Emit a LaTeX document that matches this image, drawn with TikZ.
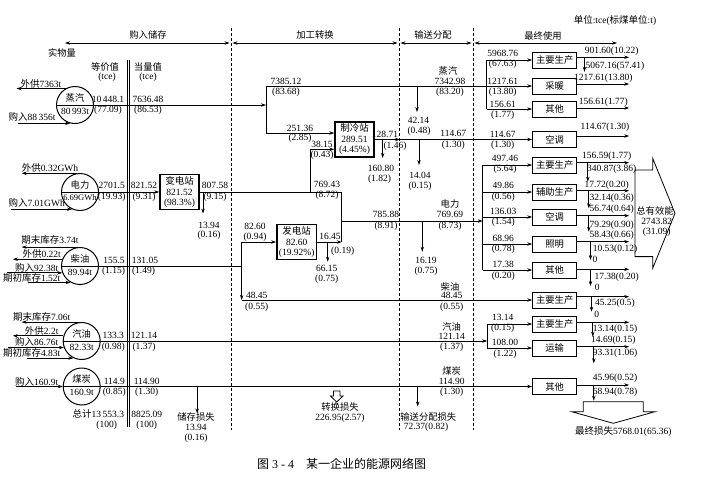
\documentclass[tikz,border=0pt]{standalone}
\usepackage{fontspec}
\setmainfont{Liberation Serif}
\newfontfamily\cjk{Noto Sans CJK SC}
\usetikzlibrary{arrows.meta,positioning}

\begin{document}
\begin{tikzpicture}[x=1pt, y=-1pt, line width=0.7pt,
        font=\fontsize{9.5}{10}\selectfont,
        useblock/.style={draw, line width=1pt, minimum width=44pt, minimum height=16pt, inner sep=0pt, font=\cjk\fontsize{9.3}{10}\selectfont},
        plant/.style={draw, line width=1.4pt, align=center, minimum width=39pt, inner sep=2pt, font=\fontsize{9.5}{10.5}\selectfont},
        src/.style={draw, circle, line width=1pt, minimum size=37pt, inner sep=0pt},
        val/.style={inner sep=0.5pt},
        zh/.style={inner sep=0.5pt, font=\cjk\fontsize{9.3}{10}\selectfont},
        divider/.style={dash pattern=on 3pt off 2pt, line width=0.6pt},
        >={Stealth[length=5pt,width=3.4pt]}
    ]
        \useasboundingbox (0,0) rectangle (707,482);

        % Stage headers
        \node[zh] (h-buy) at (148,35) {购入储存};
        \node[zh] (h-conv) at (315,35) {加工转换};
        \node[zh] (h-dist) at (433,35) {输送分配};
        \node[zh] (h-use) at (543,36) {最终使用};
        \node[val] (h-unit) at (615,20) {{\cjk 单位}:tce({\cjk 标煤单位}:t)};
        \node[zh] (h-phys) at (62,53) {实物量};
        \node[zh] (h-eq) at (105,67) {等价值};
        \node[val] (h-eqt) at (107,77.5) {(tce)};
        \node[zh] (h-cv) at (148,67) {当量值};
        \node[val] (h-cvt) at (148,77.5) {(tce)};

        \coordinate (s0) at (65,43);
        \coordinate (s1) at (231,43);
        \coordinate (s2) at (399,43);
        \coordinate (s3) at (473,43);
        \coordinate (s4) at (617,43);
        \draw[<->] (s0) -- ([xshift=-1.5pt]s1);
        \draw[<->] ([xshift=1.5pt]s1) -- ([xshift=-1.5pt]s2);
        \draw[<->] ([xshift=1.5pt]s2) -- ([xshift=-1.5pt]s3);
        \draw[<->] ([xshift=1.5pt]s3) -- (s4);

        % Stage borders
        \draw[divider] (231,28) -- (231,430);
        \draw[divider] (399,28) -- (399,430);
        \draw[divider] (473,28) -- (473,430);
        \draw (127,60) -- (127,427);
        \draw (129.5,60) -- (129.5,427);

        % Sources
        \node[src] (zq) at (75,105) {};
        \node[zh] (zq-n) at (75,98) {蒸汽};
        \node[val] (zq-q) at (75,111.5) {80\,993t};
        \node[src] (dl) at (80,192) {};
        \node[zh] (dl-n) at (80,184.5) {电力};
        \node[val, font=\fontsize{8.5}{9}\selectfont] (dl-q) at (80,198) {6.69GWh};
        \node[src] (cy) at (80,266) {};
        \node[zh] (cy-n) at (80,258.5) {柴油};
        \node[val] (cy-q) at (80,272.5) {89.94t};
        \node[src] (qy) at (81.7,341) {};
        \node[zh] (qy-n) at (81.7,333.5) {汽油};
        \node[val] (qy-q) at (81.7,347) {82.33t};
        \node[src] (mt) at (81.7,386.5) {};
        \node[zh] (mt-n) at (81.7,379) {煤炭};
        \node[val] (mt-q) at (81.7,392.5) {160.9t};

        % Source in and out
        \node[val] (zq-out) at (41,83.5) {{\cjk 外供}7363t};
        \node[val] (zq-in) at (32,117) {{\cjk 购入}88\,356t};
        \node[val] (dl-out) at (50,167.5) {{\cjk 外供}0.32GWh};
        \node[val] (dl-in) at (36.7,203.3) {{\cjk 购入}7.01GWh};
        \node[val] (cy-st) at (50,240) {{\cjk 期末库存}3.74t};
        \node[val] (cy-out) at (41.7,254.3) {{\cjk 外供}0.22t};
        \node[val] (cy-in) at (36.7,267.5) {{\cjk 购入}92.38t};
        \node[val] (cy-st0) at (31.7,278) {{\cjk 期初库存}1.52t};
        \node[val] (qy-st) at (41.7,317) {{\cjk 期末库存}7.06t};
        \node[val] (qy-out) at (41.7,330.5) {{\cjk 外供}2.2t};
        \node[val] (qy-in) at (36.7,342) {{\cjk 购入}86.76t};
        \node[val] (qy-st0) at (31.7,352.5) {{\cjk 期初库存}4.83t};
        \node[val] (mt-in) at (36.7,381.5) {{\cjk 购入}160.9t};

        \draw[->] (zq.120) -- ++(-49,0);
        \draw[<-] (zq.255) -- ++(-52,0);
        \draw[->] (dl.100) -- ++(-55,0);
        \draw[<-] (dl.245) -- ++(-60.5,0);
        \draw[->] (cy.95) -- ++(-56.7,0);
        \draw[->] (cy.159) -- ++(-49.4,0);
        \draw[<-] (cy.201) -- ++(-55,0);
        \draw[<-] (cy.240) -- ++(-43,0);
        \draw[->] (qy.95) -- ++(-58.4,0);
        \draw[->] (qy.164) -- ++(-50.6,0);
        \draw[<-] (qy.200) -- ++(-56,0);
        \draw[<-] (qy.244) -- ++(-46,0);
        \draw[<-] (mt.west) -- ++(-46.5,0);

        % Purchase and storage values
        \node[val] (zq-a1) at (108,99) {10\,448.1};
        \node[val] (zq-b1) at (108,110.5) {(77.09)};
        \node[val] (zq-a2) at (148,99) {7636.48};
        \node[val] (zq-b2) at (148,110.5) {(86.53)};
        \node[val] (dl-a1) at (111.7,185) {2701.5};
        \node[val] (dl-b1) at (111.7,197) {(19.93)};
        \node[val] (dl-a2) at (144,185) {821.52};
        \node[val] (dl-b2) at (144,197) {(9.31)};
        \node[val] (cy-a1) at (114,260) {155.5};
        \node[val] (cy-b1) at (113.5,271.5) {(1.15)};
        \node[val] (cy-a2) at (145,260) {131.05};
        \node[val] (cy-b2) at (143.5,271.5) {(1.49)};
        \node[val] (qy-a1) at (113.3,335.5) {133.3};
        \node[val] (qy-b1) at (113.3,347) {(0.98)};
        \node[val] (qy-a2) at (144,335.5) {121.14};
        \node[val] (qy-b2) at (144,347) {(1.37)};
        \node[val] (mt-a1) at (114.3,381) {114.9};
        \node[val] (mt-b1) at (114.3,392.5) {(0.85)};
        \node[val] (mt-a2) at (146.7,381) {114.90};
        \node[val] (mt-b2) at (146.7,392.5) {(1.30)};
        \node[val] (sum-a1) at (98.3,414.3) {{\cjk 总计}13\,553.3};
        \node[val] (sum-b1) at (106.7,425) {(100)};
        \node[val] (sum-a2) at (146.7,414.3) {8825.09};
        \node[val] (sum-b2) at (146.7,425) {(100)};

        % Plants
        \node[plant] (bd) at (179.5,192) {{\cjk 变电站}\\821.52\\(98.3\%)};
        \node[plant] (zl) at (354.5,139.5) {{\cjk 制冷站}\\289.51\\(4.45\%)};
        \node[plant] (fd) at (296.7,242) {{\cjk 发电站}\\82.60\\(19.92\%)};

        % Final use
        \node[useblock] (u1) at (554.7,60) {主要生产};
        \node[useblock] (u2) at (554.7,86) {采暖};
        \node[useblock] (u3) at (554.7,109) {其他};
        \node[useblock] (u4) at (554.7,139.5) {空调};
        \node[useblock] (u5) at (554.7,165) {主要生产};
        \node[useblock] (u6) at (554.7,192) {辅助生产};
        \node[useblock] (u7) at (554.7,217) {空调};
        \node[useblock] (u8) at (554.7,244) {照明};
        \node[useblock] (u9) at (554.7,270) {其他};
        \node[useblock] (u10) at (554.7,300) {主要生产};
        \node[useblock] (u11) at (554.7,324) {主要生产};
        \node[useblock] (u12) at (554.7,348) {运输};
        \node[useblock] (u13) at (554.7,386.5) {其他};

        % Steam
        \coordinate (zq-j) at (266,105);
        \coordinate (zq-up) at (266,86);
        \coordinate (zq-dn) at (266,133);
        \coordinate (zq-f1) at (486.7,60);
        \coordinate (zq-f3) at (486.7,109);
        \draw[->] (zq.west) -- (zq-j);
        \draw (zq-up) -- (zq-dn);
        \draw[->] (zq-up) -- (u2.west);
        \draw[->] (zq-dn) -- (zl.west |- zq-dn);
        \draw[->] ([xshift=151pt]zq-up) -- ++(0,26);
        \draw (zq-f1) -- (zq-f3);
        \draw[->] (zq-f1) -- (u1.west);
        \draw[->] (zq-f3) -- (u3.west);
        \coordinate (zl-o) at (400,139.5);
        \draw[->] (zl.east) -- (zl-o);
        \draw[->] (zl-o) -- (u4.west);
        \draw[->] ([xshift=8pt]zl.east) -- ++(0,18.5);
        \draw[->] ([xshift=19pt]zl-o) -- ++(0,25.5);

        \node[val] (zq-a3) at (286,81) {7385.12};
        \node[val] (zq-b3) at (286,92) {(83.68)};
        \node[val] (zq-a4) at (300,128) {251.36};
        \node[val] (zq-b4) at (300,138.5) {(2.85)};
        \node[val] (zl-a1) at (385,134) {128.71};
        \node[val] (zl-b1) at (395,146.5) {(1.46)};
        \node[val] (zl-a2) at (381,168) {160.80};
        \node[val] (zl-b2) at (379.5,179) {(1.82)};
        \node[zh] (zq-n2) at (448,71) {蒸汽};
        \node[val] (zq-a5) at (450,81) {7342.98};
        \node[val] (zq-b5) at (450,92) {(83.20)};
        \node[val] (zq-a6) at (418.5,120) {42.14};
        \node[val] (zq-b6) at (419,131) {(0.48)};
        \node[val] (zl-a3) at (453.3,133.5) {114.67};
        \node[val] (zl-b3) at (453.3,145) {(1.30)};
        \node[val] (zl-a4) at (420,175) {14.04};
        \node[val] (zl-b4) at (420,186.5) {(0.15)};

        % Power
        \coordinate (dl-a) at (310.7,192);
        \coordinate (dl-e) at (310.7,149.3);
        \coordinate (dl-b) at (341.7,192);
        \coordinate (dl-c) at (341.7,221);
        \coordinate (dl-d) at (341.7,242);
        \coordinate (dl-g) at (482.7,165);
        \coordinate (dl-h) at (482.7,270);
        \draw[->] (dl.west) -- (bd.west);
        \draw (bd.east) -- (dl-b) -- (dl-d);
        \draw[->] ([xshift=3.3pt]bd.east) -- ++(0,21.5);
        \draw[->] (dl-a) -- (dl-e) -- (zl.west |- dl-e);
        \draw[->] (fd.east) -- (dl-d);
        \draw[->] ([xshift=10.5pt]fd.east) -- ++(0,19.7);
        \draw[->] (dl-c) -- (dl-g |- dl-c);
        \draw[->] ([xshift=80.6pt]dl-c) -- ++(0,30.7);
        \draw (dl-g) -- (dl-h);
        \draw[->] (dl-g) -- (u5.west);
        \draw[->] (dl-g |- u6) -- (u6.west);
        \draw[->] (dl-g |- u7) -- (u7.west);
        \draw[->] (dl-g |- u8) -- (u8.west);
        \draw[->] (dl-h) -- (u9.west);

        \node[val] (dl-a3) at (215,185) {807.58};
        \node[val] (dl-b3) at (215,197) {(9.15)};
        \node[val] (dl-a4) at (209,225) {13.94};
        \node[val] (dl-b4) at (209,235.5) {(0.16)};
        \node[val] (dl-a5) at (322,144) {38.15};
        \node[val] (dl-b5) at (322,155) {(0.43)};
        \node[val] (dl-a6) at (327,184) {769.43};
        \node[val] (dl-b6) at (327,195.5) {(8.72)};
        \node[val] (fd-a1) at (330,236) {16.45};
        \node[val] (fd-b1) at (342.7,251) {(0.19)};
        \node[val] (fd-a2) at (326.7,268.3) {66.15};
        \node[val] (fd-b2) at (326.7,279) {(0.75)};
        \node[val] (dl-a7) at (386,214.5) {785.88};
        \node[val] (dl-b7) at (386,226) {(8.91)};
        \node[zh] (dl-n2) at (450,204) {电力};
        \node[val] (dl-a8) at (450,214.5) {769.69};
        \node[val] (dl-b8) at (450,226.5) {(8.73)};
        \node[val] (dl-a9) at (426,260) {16.19};
        \node[val] (dl-b9) at (426,271) {(0.75)};

        % Diesel
        \coordinate (cy-j) at (241.7,266);
        \coordinate (cy-u) at (241.7,242);
        \coordinate (cy-d) at (241.7,300);
        \draw (cy.west) -- (cy-j);
        \draw[->] (cy-j) -- (cy-u) -- (fd.west);
        \draw[->] (cy-j) -- (cy-d);
        \draw[->] (cy-d) -- (u10.west);

        \node[val] (cy-a3) at (255,226.7) {82.60};
        \node[val] (cy-b3) at (255,237) {(0.94)};
        \node[val] (cy-a4) at (256.7,295.5) {48.45};
        \node[val] (cy-b4) at (256.7,307) {(0.55)};
        \node[zh] (cy-n2) at (450,286.5) {柴油};
        \node[val] (cy-a5) at (451.7,295.5) {48.45};
        \node[val] (cy-b5) at (451.7,307) {(0.55)};

        % Gasoline
        \coordinate (qy-j) at (487.3,341);
        \coordinate (qy-a) at (487.3,324);
        \coordinate (qy-b) at (487.3,348);
        \draw[->] (qy.west) -- (qy-j);
        \draw (qy-a) -- (qy-b);
        \draw[->] (qy-a) -- (u11.west);
        \draw[->] (qy-b) -- (u12.west);

        \node[zh] (qy-n2) at (451.7,327) {汽油};
        \node[val] (qy-a3) at (451.7,336) {121.14};
        \node[val] (qy-b3) at (451.7,347.5) {(1.37)};

        % Coal
        \draw[->] (mt.west) -- (u13.west);
        \draw[->] ([xshift=96.5pt]mt.east) -- ++(0,27);
        \draw[->] ([xshift=317pt]mt.east) -- ++(0,20);

        \node[zh] (mt-n2) at (451.7,371) {煤炭};
        \node[val] (mt-a3) at (451.7,381) {114.90};
        \node[val] (mt-b3) at (451.7,392.5) {(1.30)};

        % Losses
        \node[zh] (ls-st) at (196,417.3) {储存损失};
        \node[val] (ls-st1) at (196,427.7) {13.94};
        \node[val] (ls-st2) at (196,438) {(0.16)};
        \draw[line width=0.8pt] (333.5,391) -- (339.9,391) -- (339.9,396) -- (343,396) -- (336.7,402) -- (330.4,396) -- (333.5,396) -- cycle;
        \node[zh] (ls-cv) at (340,407.3) {转换损失};
        \node[val] (ls-cv1) at (340,418.3) {226.95(2.57)};
        \node[zh] (ls-ds) at (428.3,416.7) {输送分配损失};
        \node[val] (ls-ds1) at (426,427.3) {72.37(0.82)};

        % Final use inputs
        \node[val] (u1-a) at (502.7,53.3) {5968.76};
        \node[val] (u1-b) at (502.7,64.5) {(67.63)};
        \node[val] (u2-a) at (502.7,81) {1217.61};
        \node[val] (u2-b) at (502.7,92) {(13.80)};
        \node[val] (u3-a) at (502.7,104) {156.61};
        \node[val] (u3-b) at (502.7,115) {(1.77)};
        \node[val] (u4-a) at (502.7,134) {114.67};
        \node[val] (u4-b) at (502.7,145) {(1.30)};
        \node[val] (u5-a) at (505,158) {497.46};
        \node[val] (u5-b) at (505,169.5) {(5.64)};
        \node[val] (u6-a) at (503.3,185.5) {49.86};
        \node[val] (u6-b) at (503.3,197) {(0.56)};
        \node[val] (u7-a) at (503.3,211) {136.03};
        \node[val] (u7-b) at (503.3,222.5) {(1.54)};
        \node[val] (u8-a) at (503.3,238) {68.96};
        \node[val] (u8-b) at (503.3,249.5) {(0.78)};
        \node[val] (u9-a) at (503.3,264.5) {17.38};
        \node[val] (u9-b) at (503.3,276) {(0.20)};
        \node[val] (u11-a) at (502.7,317.5) {13.14};
        \node[val] (u11-b) at (502.7,328.5) {(0.15)};
        \node[val] (u12-a) at (505,342.5) {108.00};
        \node[val] (u12-b) at (505,354) {(1.22)};

        % Final use outputs
        \draw[->] ([yshift=2.7pt]u1.east) -- ++(52,0);
        \draw[->] ([xshift=7.3pt,yshift=2.7pt]u1.east) -- ++(0,14.5);
        \draw[->] ([yshift=2pt]u2.east) -- ++(52,0);
        \draw[->] ([yshift=1pt]u3.east) -- ++(52,0);
        \draw[->] ([yshift=3.5pt]u4.east) -- ++(52,0);
        \draw[->] ([yshift=2.3pt]u5.east) -- ++(52,0);
        \draw[->] ([xshift=10.6pt,yshift=2.3pt]u5.east) -- ++(0,19);
        \draw[->] ([yshift=1.3pt]u6.east) -- ++(52,0);
        \draw[->] ([xshift=11.6pt,yshift=1.3pt]u6.east) -- ++(0,17.6);
        \draw[->] ([yshift=1.3pt]u7.east) -- ++(52,0);
        \draw[->] ([xshift=11.6pt,yshift=1.3pt]u7.east) -- ++(0,16);
        \draw[->] ([yshift=2.3pt]u8.east) -- ++(52,0);
        \draw[->] ([xshift=13.3pt,yshift=2.3pt]u8.east) -- ++(0,18.3);
        \draw[->] ([yshift=0.7pt]u9.east) -- ++(52,0);
        \draw[->] ([xshift=13.3pt,yshift=0.7pt]u9.east) -- ++(0,16.7);
        \draw[->] ([yshift=3.3pt]u10.east) -- ++(52,0);
        \draw[->] ([xshift=14.3pt,yshift=3.3pt]u10.east) -- ++(0,15);
        \draw[->] ([yshift=1.7pt]u11.east) -- ++(52,0);
        \draw[->] ([xshift=15.6pt,yshift=1.7pt]u11.east) -- ++(0,14.4);
        \draw[->] ([yshift=1.3pt]u12.east) -- ++(52,0);
        \draw[->] ([xshift=16.6pt,yshift=1.3pt]u12.east) -- ++(0,16.6);
        \draw[->] ([yshift=1.5pt]u13.east) -- ++(52,0);
        \draw[->] ([xshift=16.6pt,yshift=1.5pt]u13.east) -- ++(0,15.7);

        \node[val] (u1-c) at (611.7,51.5) {901.60(10.22)};
        \node[val] (u1-d) at (615,66) {5067.16(57.41)};
        \node[val] (u2-c) at (603.3,78) {1217.61(13.80)};
        \node[val] (u3-c) at (603.3,102) {156.61(1.77)};
        \node[val] (u4-c) at (605,127.5) {114.67(1.30)};
        \node[val] (u5-c) at (606.7,156) {156.59(1.77)};
        \node[val] (u5-d) at (611.7,169) {340.87(3.86)};
        \node[val] (u6-c) at (606.7,185) {17.72(0.20)};
        \node[val] (u6-d) at (611.7,198.5) {32.14(0.36)};
        \node[val] (u7-c) at (611.7,209.5) {56.74(0.64)};
        \node[val] (u7-d) at (611.7,225) {79.29(0.90)};
        \node[val] (u8-c) at (611.7,235.5) {58.43(0.66)};
        \node[val] (u8-d) at (615,249.5) {10.53(0.12)};
        \node[val] (u8-e) at (595,259.5) {0};
        \node[val] (u9-d) at (616.7,277) {17.38(0.20)};
        \node[val] (u9-e) at (597.3,287) {0};
        \node[val] (u10-d) at (615,303.5) {45.25(0.5)};
        \node[val] (u10-e) at (596.7,314.5) {0};
        \node[val] (u11-d) at (615,329.5) {13.14(0.15)};
        \node[val] (u12-c) at (613.3,340) {14.69(0.15)};
        \node[val] (u12-d) at (615,353.5) {93.31(1.06)};
        \node[val] (u13-c) at (615,378) {45.96(0.52)};
        \node[val] (u13-d) at (615,392) {68.94(0.78)};

        % Totals
        \draw[line width=0.8pt] (635,170) -- (652.7,170) -- (652.7,158.3) -- (675,213.3) -- (652.7,268.3) -- (652.7,256.6) -- (635,256.6) -- cycle;
        \node[zh] (eff-n) at (655,211) {总有效能};
        \node[val] (eff-a) at (656.7,221.7) {2743.82};
        \node[val] (eff-b) at (656.7,232) {(31.09)};
        \draw[line width=0.8pt] (583.3,401.7) -- (643.3,401.7) -- (643.3,411.7) -- (655,411.7) -- (613.3,423.3) -- (571.7,411.7) -- (583.3,411.7) -- cycle;
        \node[val] (ls-fin) at (623.3,431.7) {{\cjk 最终损失}5768.01(65.36)};

        % Caption
        \node[font=\fontsize{12}{14}\selectfont] (cap) at (341.7,464) {{\cjk 图} 3 - 4\quad{\cjk 某一企业的能源网络图}};
    \end{tikzpicture}
\end{document}
